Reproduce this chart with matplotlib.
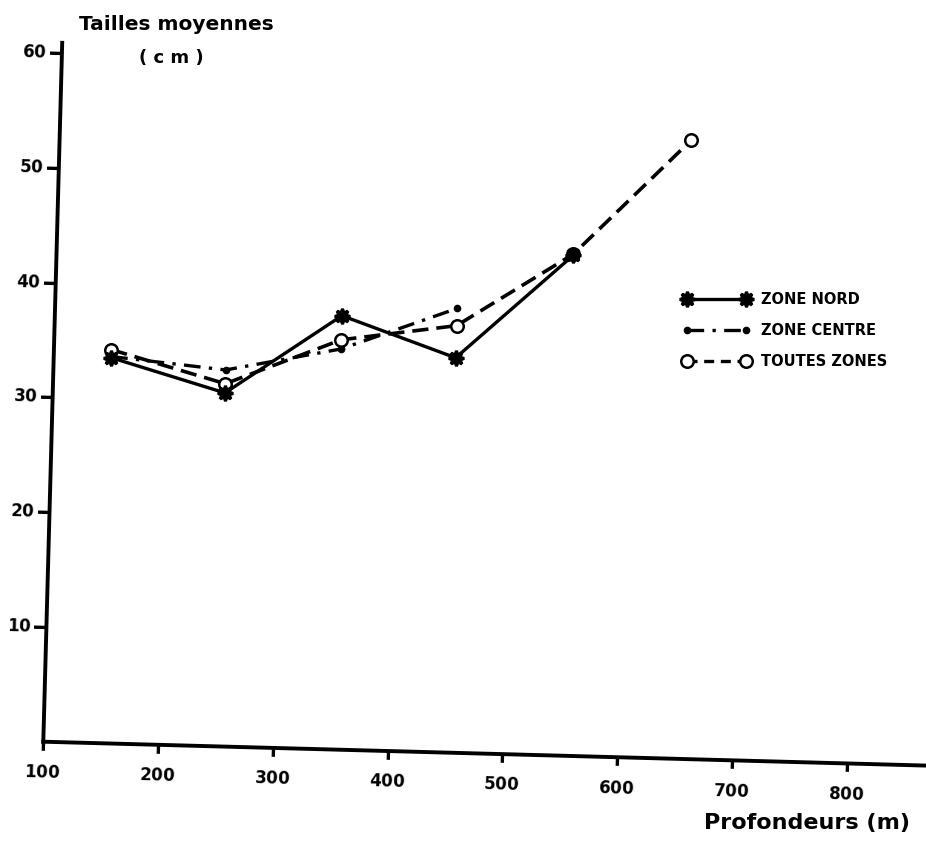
import matplotlib
matplotlib.use("Agg")
import matplotlib.pyplot as plt
from matplotlib.transforms import Affine2D
from matplotlib.lines import Line2D
import mpl_toolkits.axisartist.floating_axes as floating_axes
from mpl_toolkits.axisartist.grid_finder import FixedLocator

# Mean size (cm) by depth class (m), class mid-points
depths = [150, 250, 350, 450, 550, 650]
zone_nord = [33.6, 30.8, 37.8, 34.4, 43.6]
zone_centre = [33.7, 32.8, 34.9, 38.7]
toutes_zones = [34.3, 31.6, 35.7, 37.2, 43.7, 53.9]

x_ticks = [100, 200, 300, 400, 500, 600, 700, 800]
y_ticks = [10, 20, 30, 40, 50, 60]

W, H = 926, 841
fig = plt.figure(figsize=(W / 100, H / 100), dpi=100)

# Origin of the plot frame in figure pixels (from bottom-left)
X0, Y0 = 43.3, 99.3
PX_PER_M = 1.148
PX_PER_CM = 11.48
TILT = -1.55

tr = (Affine2D().translate(-100, 0)
      .scale(PX_PER_M, PX_PER_CM)
      .rotate_deg(TILT))

grid_helper = floating_axes.GridHelperCurveLinear(
    tr, extremes=(100, 868, 0, 60.9),
    grid_locator1=FixedLocator(x_ticks),
    grid_locator2=FixedLocator(y_ticks),
)
ax = fig.add_axes([0, 0, 1, 1], axes_class=floating_axes.FloatingAxes,
                  grid_helper=grid_helper)
ax.set_xlim(-X0, W - X0)
ax.set_ylim(-Y0, H - Y0)

for side in ("top", "right"):
    ax.axis[side].set_visible(False)

for side, size, pad in (("bottom", 6, 9), ("left", 9, 2)):
    a = ax.axis[side]
    a.line.set_linewidth(2.8)
    a.major_ticks.set_tick_out(True)
    a.major_ticks.set_ticksize(size)
    a.major_ticks.set_linewidth(2.4)
    a.major_ticks.set_markeredgewidth(2.4)
    a.major_ticklabels.set_fontsize(12)
    a.major_ticklabels.set_fontweight("bold")
    a.major_ticklabels.set_pad(pad)

aux = ax.get_aux_axes(tr)

star = (8, 1, 0)
n = len(zone_nord)
c = len(zone_centre)
aux.plot(depths, toutes_zones, color="black", lw=2.6, dashes=(4.5, 2.2),
         marker="o", ms=9, mfc="white", mec="black", mew=1.8, zorder=3)
aux.plot(depths[:c], zone_centre, color="black", lw=2.4,
         dashes=(5, 2.5, 1, 2.5), marker="o", ms=4.5, mfc="black",
         mec="black", zorder=4)
aux.plot(depths[:n], zone_nord, color="black", lw=2.4, marker=star,
         ms=11, mfc="black", mec="black", mew=2.2, zorder=5)

fig.text(176 / W, 1 - 24 / H, "Tailles moyennes", ha="center", va="center",
         fontsize=14.5, fontweight="bold")
fig.text(171 / W, 1 - 58 / H, "( c m )", ha="center", va="center",
         fontsize=13, fontweight="bold")
fig.text(807 / W, 1 - 823 / H, "Profondeurs (m)", ha="center", va="center",
         fontsize=16, fontweight="bold")

handles = [
    Line2D([], [], color="black", lw=2.4, marker=star, ms=11, mfc="black",
           mew=2.2),
    Line2D([], [], color="black", lw=2.4, dashes=(5, 2.5, 1, 2.5),
           marker="o", ms=4.5, mfc="black"),
    Line2D([], [], color="black", lw=2.4, dashes=(3, 2), marker="o", ms=9,
           mfc="white", mec="black", mew=1.8),
]
labels = ["ZONE NORD", "ZONE CENTRE", "TOUTES ZONES"]
fig.legend(handles, labels, loc="upper left",
           bbox_to_anchor=(683 / W, 1 - 292 / H), frameon=False,
           numpoints=2, handlelength=4.6, handletextpad=0.75,
           labelspacing=1.1, borderpad=0, borderaxespad=0,
           prop={"weight": "bold", "size": 10.5})

fig.savefig("out.png", dpi=100)
